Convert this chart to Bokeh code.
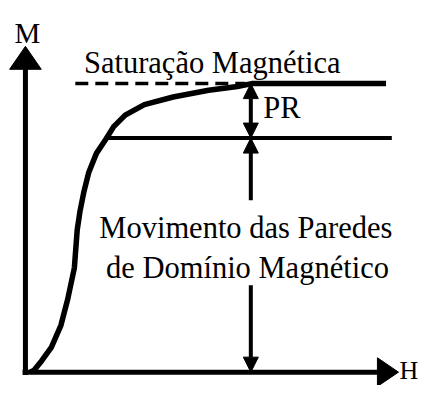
from bokeh.plotting import figure
from bokeh.models import Range1d, Arrow, NormalHead, ColumnDataSource
from bokeh.core.properties import value
from bokeh.embed import file_html
from bokeh.resources import INLINE

# ---- data (arbitrary units: H horizontal, M vertical) ----
curve_h = [5, 9, 17, 27, 37, 44, 51, 54, 57, 61, 66, 74, 84, 92, 104, 124, 154, 191, 221, 236, 376]
curve_m = [0, 2, 12, 26, 49, 76, 109, 149, 169, 189, 209, 229, 244, 257, 269, 280, 288, 295, 299, 302, 302]

m_sat = 302          # saturation level
m_low = 245          # level of end of wall motion
dash_h = [52, 229]   # dashed saturation extension
low_h = [84, 382]    # lower horizontal line
arrow_h = 235        # position of the vertical dimension arrows
gap_m = [180, 91]    # text gap in the lower arrow

h_axis_end = 389
m_axis_end = 341

labels_left = ["Saturação Magnética", "PR", "Movimento das Paredes", "de Domínio Magnético"]
labels_left_h = [61, 248, 77, 84]
labels_left_m = [324, 276, 151, 109]
label_m_text = ["M"]
label_m_h = [2]
label_m_m = [355]
label_h_text = ["H"]
label_h_h = [390]
label_h_m = [2]

FONT = value("Liberation Serif")

p = figure(width=422, height=385, x_range=Range1d(-26, 414), y_range=Range1d(-14, 389),
           output_backend="svg", toolbar_location=None, min_border=0,
           x_axis_location=None, y_axis_location=None)
p.grid.visible = False
p.outline_line_color = None
p.background_fill_color = "white"
p.border_fill_color = "white"

# axes lines
p.line(x=[0, 0], y=[-3, m_axis_end - 20], line_color="black", line_width=5)
p.line(x=[-3, h_axis_end - 20], y=[0, 0], line_color="black", line_width=5)
# axis arrowheads (triangles)
head_len_m, head_half_m = 24, 16.5
head_len_h, head_half_h = 22, 15
p.patches(xs=[[0, -head_half_m, head_half_m],
               [h_axis_end, h_axis_end - head_len_h, h_axis_end - head_len_h]],
          ys=[[m_axis_end, m_axis_end - head_len_m, m_axis_end - head_len_m],
              [0, head_half_h, -head_half_h]],
          fill_color="black", line_color="black")

# magnetization curve
p.line(x=curve_h, y=curve_m, line_color="black", line_width=5.5, line_join="round")
# dashed extension of saturation
p.line(x=dash_h, y=[m_sat, m_sat], line_color="black", line_width=3.5, line_dash="13 7")
# lower level line
p.line(x=low_h, y=[m_low, m_low], line_color="black", line_width=4)

# dimension arrows
def head():
    return NormalHead(size=15, fill_color="black", line_color="black", line_width=1)

p.add_layout(Arrow(start=head(), end=head(), x_start=arrow_h, y_start=m_sat,
                   x_end=arrow_h, y_end=m_low, line_width=4))
p.add_layout(Arrow(start=head(), end=None, x_start=arrow_h, y_start=m_low,
                   x_end=arrow_h, y_end=gap_m[0], line_width=4))
p.add_layout(Arrow(start=None, end=head(), x_start=arrow_h, y_start=gap_m[1],
                   x_end=arrow_h, y_end=0, line_width=4))

# texts
src_l = ColumnDataSource(dict(x=labels_left_h, y=labels_left_m, t=labels_left))
p.text(x="x", y="y", text="t", source=src_l, text_font=FONT, text_font_size="30.5px",
       text_align="left", text_baseline="alphabetic", text_color="black")
src_m = ColumnDataSource(dict(x=label_m_h, y=label_m_m, t=label_m_text))
p.text(x="x", y="y", text="t", source=src_m, text_font=FONT, text_font_size="29px",
       text_align="center", text_baseline="alphabetic", text_color="black")
src_h = ColumnDataSource(dict(x=label_h_h, y=label_h_m, t=label_h_text))
p.text(x="x", y="y", text="t", source=src_h, text_font=FONT, text_font_size="26px",
       text_align="left", text_baseline="alphabetic", text_color="black")

open("out.html", "w").write(file_html(p, INLINE))
